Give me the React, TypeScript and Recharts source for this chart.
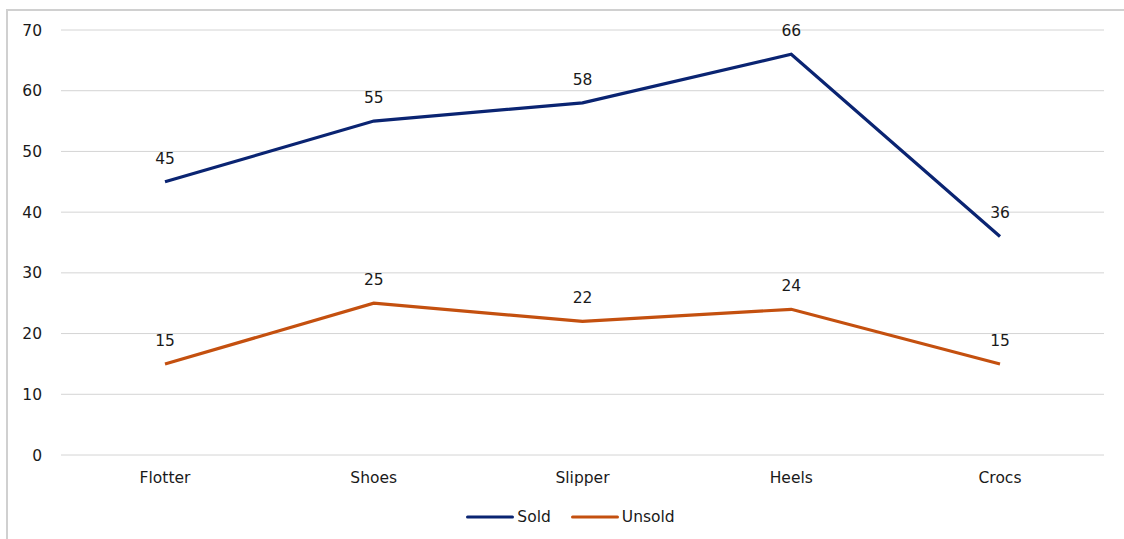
import React from "react";
import { LineChart, Line, XAxis, YAxis, CartesianGrid, Legend, LabelList } from "recharts";

const categories = ["Flotter", "Shoes", "Slipper", "Heels", "Crocs"];
const soldValues = [45, 55, 58, 66, 36];
const unsoldValues = [15, 25, 22, 24, 15];
const yTicks = [0, 10, 20, 30, 40, 50, 60, 70];

const data = categories.map((name, i) => ({ name, Sold: soldValues[i], Unsold: unsoldValues[i] }));

const FONT = "'DejaVu Sans', Verdana, sans-serif";
const SOLD = "#0a2472";
const UNSOLD = "#c4500f";
const TEXT = "#1a1a1a";

const LegendContent = () => (
  <div style={{ display: "flex", justifyContent: "center", alignItems: "center", fontFamily: FONT, fontSize: 15.5, color: TEXT, height: 20, paddingLeft: 37 }}>
    {[{ n: "Sold", c: SOLD }, { n: "Unsold", c: UNSOLD }].map((it, i) => (
      <div key={it.n} style={{ display: "flex", alignItems: "center", marginLeft: i ? 20 : 0 }}>
        <svg width={48} height={6} style={{ marginRight: 3 }}>
          <line x1={1.5} y1={3} x2={46.5} y2={3} stroke={it.c} strokeWidth={3} strokeLinecap="round" />
        </svg>
        <span>{it.n}</span>
      </div>
    ))}
  </div>
);

export default function App() {
  return (
    <div style={{ position: "fixed", left: 0, top: 0, width: 1124, height: 539, background: "#fff", overflow: "hidden" }}>
      <div style={{ position: "absolute", left: 6, top: 9, width: 1118, height: 530, borderTop: "2px solid #d0d0d0", borderLeft: "2px solid #d0d0d0", boxSizing: "border-box" }} />
      <div style={{ position: "absolute", left: 0, top: 0 }}>
        <LineChart width={1124} height={539} data={data} margin={{ top: 30, right: 20, bottom: 2, left: 0 }}>
          <CartesianGrid vertical={false} stroke="#d4d4d4" strokeWidth={1} />
          <XAxis dataKey="name" axisLine={false} tickLine={false} tickSize={0} tickMargin={17} height={52}
            padding={{ left: 104, right: 104 }}
            tick={{ fontFamily: FONT, fontSize: 15.5, fill: TEXT }} />
          <YAxis domain={[0, 70]} ticks={yTicks} axisLine={false} tickLine={false} tickSize={0} tickMargin={19} width={61}
            tick={{ fontFamily: FONT, fontSize: 15.5, fill: TEXT }} />
          <Legend verticalAlign="bottom" content={<LegendContent />} height={30} />
          <Line dataKey="Sold" stroke={SOLD} strokeWidth={3.2} dot={false} isAnimationActive={false}>
            <LabelList dataKey="Sold" position="top" offset={18} style={{ fontFamily: FONT, fontSize: 15.5, fill: TEXT }} />
          </Line>
          <Line dataKey="Unsold" stroke={UNSOLD} strokeWidth={3.2} dot={false} isAnimationActive={false}>
            <LabelList dataKey="Unsold" position="top" offset={18} style={{ fontFamily: FONT, fontSize: 15.5, fill: TEXT }} />
          </Line>
        </LineChart>
      </div>
    </div>
  );
}
